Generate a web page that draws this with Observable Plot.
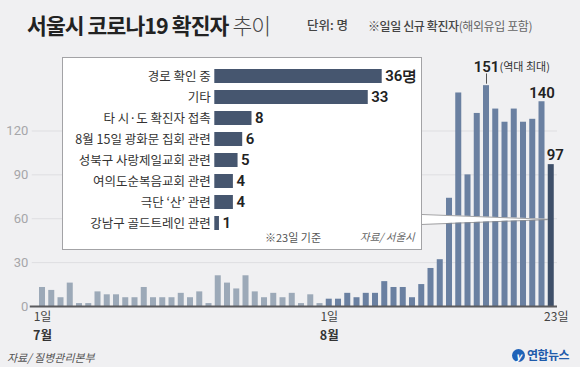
<!DOCTYPE html>
<html><head><meta charset="utf-8">
<script src="https://cdn.jsdelivr.net/npm/d3@7"></script>
<script src="https://cdn.jsdelivr.net/npm/@observablehq/plot@0.6"></script>
<style>
body{margin:0;background:#f0f0f2;}
#root{position:relative;width:580px;height:367px;background:#f0f0f2;overflow:hidden;font-family:"Noto Sans CJK KR","Noto Sans",sans-serif;}
.abs{position:absolute;white-space:nowrap;}
#main{position:absolute;left:0;top:0;}
#box{position:absolute;left:62px;top:57px;width:358px;height:190.5px;background:#fff;border:1px solid #a3a3a6;}
#box svg{position:absolute;left:0;top:0;}
</style></head><body><div id="root">
<div id="main"></div>
<div class="abs" style="left:27px;top:13px;font-size:21.5px;line-height:24px;letter-spacing:-0.9px;color:#222;"><span style="font-weight:700">서울시 코로나19 확진자</span> <span style="font-weight:300;color:#444">추이</span></div>
<div class="abs" style="left:307px;top:17px;font-size:12.5px;line-height:16px;font-weight:500;color:#444;">단위: 명</div>
<div class="abs" style="left:368px;top:18px;font-size:12px;line-height:15px;font-weight:500;color:#444;letter-spacing:-0.4px;">※일일 신규 확진자<span style="font-weight:400;color:#666">(해외유입 포함)</span></div>
<div id="box">
  <div class="abs" style="left:202px;top:172px;font-size:11px;line-height:14px;color:#555;">※23일 기준</div>
  <div class="abs" style="left:297px;top:172px;font-size:10.5px;line-height:14px;color:#666;font-style:italic;">자료/ 서울시</div>
</div>
<div class="abs" style="left:7px;top:350px;font-size:11px;line-height:15px;color:#555;font-style:italic;">자료/ 질병관리본부</div>
<div class="abs" style="left:512px;top:349px;width:13px;height:13px;border-radius:50%;background:#1f62b8;color:#fff;font-size:10px;line-height:13px;text-align:center;font-weight:700;font-style:italic;">y</div>
<div class="abs" style="left:527px;top:347px;font-size:12px;line-height:16px;color:#1f5bab;font-weight:700;letter-spacing:-0.5px;">연합뉴스</div>
</div>
<script>
// Daily new cases in Seoul
const julyCases = [13, 11, 6, 16, 2, 2, 10, 8, 8, 6, 6, 13, 6, 6, 6, 9, 6, 10, 2, 21, 16, 12, 21, 10, 6, 9, 6, 9, 2, 8, 2];
const augCases = [5, 5, 9, 6, 9, 9, 17, 13, 13, 6, 15, 26, 32, 74, 146, 90, 132, 151, 135, 126, 135, 126, 128, 140, 97];
const yTicks = [0, 30, 60, 90, 120];
const xTickIndex = [1, 32, 56];
const xTickDay = ["1일", "1일", "23일"];
const xTickMonth = ["7월", "8월", ""];
const labeledIndex = [55, 56];
const peakNote = "(역대 최대)";

// Infection routes (inset)
const causes = ["경로 확인 중", "기타", "타 시·도 확진자 접촉", "8월 15일 광화문 집회 관련", "성북구 사랑제일교회 관련", "여의도순복음교회 관련", "극단 ‘산’ 관련", "강남구 골드트레인 관련"];
const causeCounts = [36, 33, 8, 6, 5, 4, 4, 1];

// Callout pointer from the inset box to the last bar
const callout = [{x: 42.05, y1: 56.1, y2: 62.9}, {x: 55.6, y1: 59.4, y2: 59.6}];

const numFont = "'Liberation Sans Narrow', Roboto, 'Noto Sans', sans-serif";
const krFont = "'Noto Sans CJK KR', sans-serif";

const bars = [
  ...julyCases.map((v, k) => ({i: k + 1, v, m: 7})),
  ...augCases.map((v, k) => ({i: julyCases.length + 1 + k, v, m: 8}))
];
const last = bars.length;
const peak = bars.reduce((a, b) => (b.v > a.v ? b : a));
const labeledMid = bars.filter(d => labeledIndex.includes(d.i) && d.i !== last);
const labeledLast = bars.filter(d => labeledIndex.includes(d.i) && d.i === last);
const colorOf = d => d.i === last ? "#3e4f69" : d.m === 7 ? "#9ca9b8" : "#6a80a1";
const xTicks = xTickIndex.map((i, k) => ({i, day: xTickDay[k], month: xTickMonth[k]}));
const xTicksMid = xTicks.filter(d => d.i !== last);
const xTicksLast = xTicks.filter(d => d.i === last);
const half = 0.325;

const main = Plot.plot({
  width: 580, height: 367,
  marginTop: 72, marginBottom: 61, marginLeft: 35.76, marginRight: 23,
  style: {background: "transparent", fontFamily: numFont, overflow: "visible"},
  x: {domain: [1 - 0.675, last + 0.675], axis: null},
  y: {domain: [0, 160], axis: null},
  marks: [
    Plot.ruleY(yTicks.filter(t => t > 0), {stroke: "#dedee1", strokeWidth: 1, insetLeft: -4}),
    Plot.text(yTicks, {y: d => d, text: d => String(d), frameAnchor: "left", textAnchor: "end", dx: -8, fontSize: 13, fill: "#a6a6a9"}),
    Plot.rectY(bars, {x1: d => d.i - half, x2: d => d.i + half, y: "v", fill: colorOf}),
    Plot.ruleY([0], {stroke: "#5b5b5e", strokeWidth: 2, insetLeft: -6}),
    Plot.areaY(callout, {x: "x", y1: "y1", y2: "y2", fill: "#ffffff"}),
    Plot.line(callout, {x: "x", y: "y1", stroke: "#8a8a8d", strokeWidth: 0.8}),
    Plot.line(callout, {x: "x", y: "y2", stroke: "#8a8a8d", strokeWidth: 0.8}),
    Plot.ruleX([peak], {x: "i", y1: d => d.v + 1, y2: d => d.v + 8, stroke: "#555", strokeWidth: 1}),
    Plot.text([peak], {x: "i", y: "v", text: d => String(d.v), dy: -18, fontSize: 15, fontWeight: 600, fill: "#222"}),
    Plot.text([peak], {x: "i", y: "v", text: () => peakNote, dy: -18, dx: 13, textAnchor: "start", fontSize: 11, fill: "#333", fontFamily: krFont}),
    Plot.text(labeledMid, {x: "i", y: "v", text: d => String(d.v), dy: -9, fontSize: 15, fontWeight: 600, fill: "#222"}),
    Plot.text(labeledLast, {x: "i", y: "v", text: d => String(d.v), dy: -9, dx: 4, fontSize: 15, fontWeight: 600, fill: "#222"}),
    Plot.text(xTicksMid, {x: "i", y: 0, text: "day", dy: 11, fontSize: 12, fill: "#444", fontFamily: krFont}),
    Plot.text(xTicksLast, {x: "i", y: 0, text: "day", dy: 11, dx: 5, fontSize: 12, fill: "#444", fontFamily: krFont}),
    Plot.text(xTicksMid, {x: "i", y: 0, text: "month", dy: 29.5, fontSize: 12.5, fontWeight: 700, fill: "#333", fontFamily: krFont})
  ]
});
document.getElementById("main").appendChild(main);

const causeRows = causes.map((c, k) => ({cause: c, n: causeCounts[k], label: k === 0 ? causeCounts[k] + "명" : String(causeCounts[k])}));
const inset = Plot.plot({
  width: 358, height: 191,
  marginTop: 3.46, marginBottom: 11.4, marginLeft: 151.3, marginRight: 39.3,
  style: {background: "transparent", overflow: "visible"},
  x: {domain: [0, 36], axis: null},
  y: {domain: causes, padding: 0.35, axis: null},
  marks: [
    Plot.barX(causeRows, {x: "n", y: "cause", fill: "#46566f"}),
    Plot.text(causeRows, {x: 0, y: "cause", text: "cause", textAnchor: "end", dx: -4, fontSize: 12.5, fill: "#333", fontFamily: krFont}),
    Plot.text(causeRows, {x: "n", y: "cause", text: "label", textAnchor: "start", dx: 3, fontSize: 15, fontWeight: 600, fill: "#222", fontFamily: numFont})
  ]
});
document.getElementById("box").appendChild(inset);
</script>
</body></html>
